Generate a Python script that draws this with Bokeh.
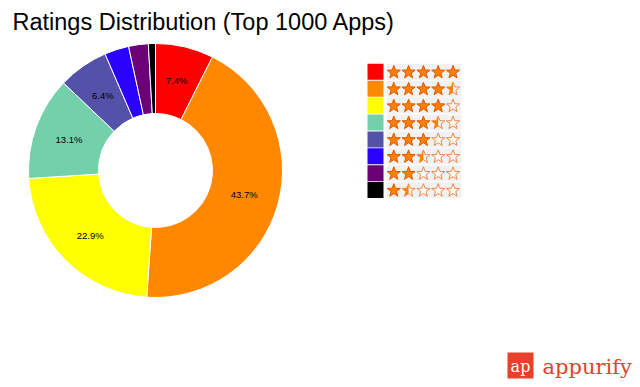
import math
from bokeh.plotting import figure
from bokeh.models import Range1d, Label
from bokeh.core.properties import value
from bokeh.embed import file_html
from bokeh.resources import INLINE

# ---- data ----
shares = [7.4, 43.7, 22.9, 13.1, 6.4, 3.1, 2.5, 0.9]
ratings = [5.0, 4.5, 4.0, 3.5, 3.0, 2.5, 2.0, 1.5]
colors = ["#ff0000", "#ff8800", "#ffff00", "#74cfab", "#5452a8", "#2a00ff", "#6b0077", "#000000"]
title_text = "Ratings Distribution (Top 1000 Apps)"
brand = "appurify"

# ---- layout (page pixels, y measured from top of window) ----
W, H = 640, 387
def Y(py):
    return H - py

p = figure(width=W, height=H, x_range=Range1d(0, W), y_range=Range1d(0, H),
           output_backend="svg", toolbar_location=None, min_border=0,
           x_axis_location=None, y_axis_location=None, outline_line_color=None)
p.grid.visible = False

cx, cy = 155, Y(170)
r_in, r_out = 57, 127
total = sum(shares)
starts, ends, mids = [], [], []
c = 0.0
for s in shares:
    a0 = math.pi / 2 - 2 * math.pi * c / total
    c += s
    a1 = math.pi / 2 - 2 * math.pi * c / total
    starts.append(a1)
    ends.append(a0)
    mids.append((a0 + a1) / 2)

p.annular_wedge(x=[cx] * len(shares), y=[cy] * len(shares), inner_radius=r_in, outer_radius=r_out,
                start_angle=starts, end_angle=ends, direction="anticlock",
                fill_color=colors, line_color="white", line_width=1)

rm = (r_in + r_out) / 2
lx, ly, lt = [], [], []
for s, m in zip(shares, mids):
    if s >= 5:
        lx.append(cx + rm * math.cos(m))
        ly.append(cy + rm * math.sin(m))
        lt.append(f"{s:.1f}%")
p.text(x=lx, y=ly, text=lt, text_align="center", text_baseline="middle",
       text_font_size="9.5px", text_font=value("Liberation Sans"), text_color="black")

# ---- legend ----
row0, pitch, rh = 71.3, 16.9, 16
sq_x, sq_w = 375, 16
bg_x0, bg_x1 = 386, 461
star_x0, star_dx = 393.3, 14.8
R_star, r_ratio = 6.9, 0.42

def star_poly(x0, y0):
    xs, ys = [], []
    for k in range(10):
        ang = math.pi / 2 + k * math.pi / 5
        rr = R_star if k % 2 == 0 else R_star * r_ratio
        xs.append(x0 + rr * math.cos(ang))
        ys.append(y0 + rr * math.sin(ang))
    return xs, ys

def clip_left(xs, ys, xc):
    pts = list(zip(xs, ys))
    out = []
    n = len(pts)
    for i in range(n):
        (x1, y1), (x2, y2) = pts[i], pts[(i + 1) % n]
        in1, in2 = x1 <= xc, x2 <= xc
        if in1:
            out.append((x1, y1))
        if in1 != in2:
            t = (xc - x1) / (x2 - x1)
            out.append((xc, y1 + t * (y2 - y1)))
    return [q[0] for q in out], [q[1] for q in out]

sq_y = [Y(row0 + pitch * i) for i in range(len(ratings))]
p.rect(x=[sq_x] * len(ratings), y=sq_y, width=sq_w, height=rh, fill_color=colors, line_color=None)
p.rect(x=[(bg_x0 + bg_x1) / 2] * len(ratings), y=sq_y, width=bg_x1 - bg_x0, height=rh,
       fill_color="#f1f1f1", line_color=None)

full_xs, full_ys, half_xs, half_ys, empty_xs, empty_ys = [], [], [], [], [], []
for i, rt in enumerate(ratings):
    yc = sq_y[i] - 0.5
    for k in range(5):
        xc = star_x0 + star_dx * k
        xs, ys = star_poly(xc, yc)
        if rt >= k + 1:
            full_xs.append(xs); full_ys.append(ys)
        else:
            empty_xs.append(xs); empty_ys.append(ys)
            if rt >= k + 0.5:
                hx, hy = clip_left(xs, ys, xc)
                half_xs.append(hx); half_ys.append(hy)

p.patches(xs=empty_xs, ys=empty_ys, fill_color="#fffaf4", line_color="#f0874a", line_width=1)
p.patches(xs=half_xs, ys=half_ys, fill_color="#ff8000", line_color=None)
p.patches(xs=full_xs, ys=full_ys, fill_color="#ff8000", line_color="#e05800", line_width=1)

# ---- title ----
p.add_layout(Label(x=12, y=Y(8), text=title_text, text_baseline="top",
                   text_font="Liberation Sans", text_font_size="23.5px", text_color="black"))

# ---- logo ----
p.rect(x=[520], y=[Y(365)], width=26, height=26, fill_color="#e8402a", line_color=None)
p.add_layout(Label(x=520, y=Y(366), text="ap", text_align="center", text_baseline="middle",
                   text_font="DejaVu Serif", text_font_size="16px", text_color="white"))
p.add_layout(Label(x=542, y=Y(366), text=brand, text_align="left", text_baseline="middle",
                   text_font="DejaVu Serif", text_font_size="21px", text_color="#e8402a"))

open("out.html", "w").write(file_html(p, INLINE))
